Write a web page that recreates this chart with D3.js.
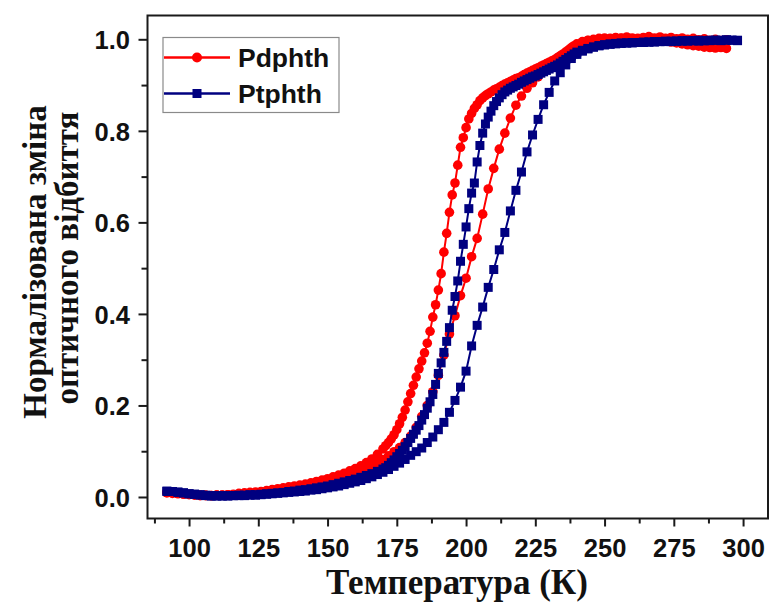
<!DOCTYPE html>
<html>
<head>
<meta charset="utf-8">
<script src="https://cdn.jsdelivr.net/npm/d3@7/dist/d3.min.js"></script>
<style>
  html, body { margin: 0; padding: 0; background: #ffffff; }
  svg { display: block; }
</style>
</head>
<body>
<svg id="chart" width="770" height="608"></svg>
<script>
// ---------------- DATA ----------------
const seriesNames = ["Pdphth", "Ptphth"];
const xTickValues = [100, 125, 150, 175, 200, 225, 250, 275, 300];
const xMinorTickValues = [87.5, 112.5, 137.5, 162.5, 187.5, 212.5, 237.5, 262.5, 287.5];
const yTickValues = [0.0, 0.2, 0.4, 0.6, 0.8, 1.0];
const yMinorTickValues = [0.1, 0.3, 0.5, 0.7, 0.9];
const xTitle = "Температура (К)";
const yTitleLines = ["Нормалізована зміна", "оптичного відбиття"];

// heating scan temperatures (K)
const heatT = [92,94,96,98,100,102,104,106,108,110,112,114,116,118,120,122,124,126,128,130,
  132,134,136,138,140,142,144,146,148,150,152,154,156,158,160,162,164,166,168,170,
  172,174,176,178,180,182,184,186,188,190,192,194,196,198,200,202,204,206,208,210,
  212,214,216,218,220,222,224,226,228,230,232,234,236,238,240,242,244,246,248,250,
  252,254,256,258,260,262,264,266,268,270,272,274,276,278,280,282,284,286,288,290,
  292,294,296,298];

// cooling scan temperatures (K)
const coolT = [92,94,96,98,100,102,104,106,108,110,112,114,116,118,120,122,124,126,128,130,
  132,134,136,138,140,142,144,146,148,150,152,154,156,158,160,162,164,166,168,170,
  171,172,173,174,175,176,177,178,179,180,181,182,183,184,185,186,187,188,189,190,
  191,192,193,194,195,196,197,198,199,200,201,202,203,204,205,206,207,208,209,210,
  211,212,213,214,215,216,217,218,219,220,221,222,223,224,225,226,227,228,229,230,
  231,232,233,234,235,236,237,238,239,240,
  242,244,246,248,250,252,254,256,258,260,262,264,266,268,270,272,274,276,278,280,
  282,284,286,288,290,292,294,296,298];

// Pdphth heating branch
const pdHeat = [0.009,0.008,0.007,0.006,0.005,0.004,0.003,0.003,0.003,0.004,0.004,0.005,0.005,0.006,0.007,0.008,0.009,0.010,0.011,0.013,
  0.015,0.017,0.019,0.021,0.023,0.025,0.027,0.030,0.033,0.036,0.040,0.044,0.048,0.050,0.052,0.056,0.061,0.067,0.074,0.082,
  0.090,0.099,0.108,0.119,0.133,0.152,0.176,0.200,0.230,0.266,0.310,0.356,0.396,0.440,0.478,0.525,0.565,0.618,0.673,0.718,
  0.760,0.795,0.828,0.856,0.876,0.893,0.905,0.918,0.930,0.942,0.953,0.963,0.972,0.980,0.987,0.993,0.997,0.999,1.000,1.000,
  1.002,1.000,1.003,1.001,0.999,1.002,1.000,0.998,1.001,0.999,0.996,0.994,0.992,0.990,0.988,0.986,0.985,0.983,0.982,0.981,
  0.982,0.980,null,null];

// Pdphth cooling branch
const pdCool = [0.011,0.010,0.009,0.007,0.006,0.005,0.004,0.004,0.003,0.004,0.004,0.005,0.006,0.008,0.009,0.010,0.011,0.012,0.014,0.016,
  0.018,0.020,0.022,0.024,0.026,0.028,0.031,0.034,0.037,0.040,0.044,0.048,0.052,0.057,0.062,0.068,0.075,0.083,0.093,0.105,
  0.112,0.119,0.127,0.136,0.147,0.160,0.174,0.190,0.208,0.226,0.244,0.262,0.280,0.297,0.315,0.336,0.362,0.393,0.420,0.452,
  0.488,0.535,0.576,0.622,0.660,0.686,0.725,0.764,0.785,0.807,0.826,0.838,0.849,0.857,0.866,0.872,0.877,0.881,0.885,0.889,
  0.892,0.895,0.899,0.902,0.905,0.908,0.911,0.914,0.916,0.919,0.923,0.926,0.929,0.932,0.935,0.938,0.941,0.944,0.947,0.950,
  0.953,0.956,0.960,0.964,0.968,0.972,0.977,0.982,0.986,0.990,
  0.995,0.998,1.000,1.002,1.003,1.001,1.004,1.002,1.005,1.003,1.001,1.004,1.006,1.003,1.005,1.002,1.004,1.001,1.003,1.000,
  1.002,0.999,1.001,0.998,1.000,0.997,0.999,null,null];

// Ptphth heating branch
const ptHeat = [0.013,0.012,0.011,0.009,0.007,0.006,0.004,0.003,0.002,0.002,0.002,0.002,0.003,0.003,0.003,0.004,0.004,0.005,0.006,0.007,
  0.008,0.009,0.010,0.011,0.012,0.013,0.015,0.016,0.018,0.020,0.022,0.024,0.027,0.030,0.033,0.036,0.040,0.044,0.049,0.054,
  0.060,0.067,0.074,0.082,0.091,0.099,0.107,0.119,0.131,0.147,0.163,0.185,0.211,0.240,0.275,0.330,0.375,0.415,0.458,0.497,
  0.540,0.578,0.625,0.670,0.710,0.754,0.791,0.825,0.857,0.884,0.909,0.927,0.944,0.958,0.967,0.974,0.979,0.983,0.986,0.988,
  0.990,0.991,0.992,0.992,0.993,0.993,0.994,0.994,0.995,0.995,0.996,0.996,0.996,0.997,0.997,0.997,0.998,0.997,0.998,0.998,
  0.998,0.999,0.998,0.998];

// Ptphth cooling branch
const ptCool = [0.012,0.012,0.010,0.009,0.007,0.006,0.005,0.004,0.003,0.003,0.003,0.003,0.003,0.004,0.004,0.005,0.005,0.006,0.007,0.008,
  0.009,0.010,0.012,0.013,0.015,0.016,0.018,0.020,0.022,0.024,0.027,0.030,0.033,0.036,0.039,0.043,0.047,0.051,0.056,0.061,
  0.064,0.069,0.075,0.081,0.088,0.095,0.102,0.110,0.119,0.128,0.137,0.146,0.156,0.168,0.180,0.194,0.208,0.224,0.246,0.270,
  0.293,0.316,0.340,0.370,0.408,0.438,0.472,0.515,0.552,0.590,0.630,0.664,0.686,0.732,0.768,0.795,0.815,0.830,0.843,0.855,
  0.864,0.872,0.879,0.885,0.889,0.893,0.896,0.899,0.902,0.906,0.909,0.912,0.915,0.918,0.920,0.923,0.926,0.929,0.932,0.935,
  0.938,0.941,0.944,0.948,0.952,0.956,0.960,0.964,0.968,0.972,
  0.976,0.980,0.983,0.986,0.988,0.989,0.990,0.991,0.992,0.992,0.993,0.993,0.994,0.994,0.995,0.995,0.995,0.996,0.996,0.996,
  0.997,0.996,0.997,0.997,0.998,0.997,0.998,0.998,0.997];

const seriesColors = ["#ff0000", "#000080"];

// ---------------- CHART ----------------
const plot = { left: 147.5, right: 768, top: 15.5, bottom: 518.5 };
const svg = d3.select("#chart");

const x = d3.scaleLinear().domain([85, 309]).range([plot.left, plot.right]);
const y = d3.scaleLinear().domain([-0.047, 1.052]).range([plot.bottom, plot.top]);

svg.append("defs").append("clipPath").attr("id", "clip")
  .append("rect").attr("x", plot.left).attr("y", plot.top)
  .attr("width", plot.right - plot.left).attr("height", plot.bottom - plot.top);

function zip(ts, vs) {
  return ts.map((t, i) => ({ t: t, v: vs[i] })).filter(d => d.v !== null && d.v !== undefined);
}

const branches = [
  { name: seriesNames[0], color: seriesColors[0], shape: "circle", data: zip(coolT, pdCool) },
  { name: seriesNames[0], color: seriesColors[0], shape: "circle", data: zip(heatT, pdHeat) },
  { name: seriesNames[1], color: seriesColors[1], shape: "square", data: zip(coolT, ptCool) },
  { name: seriesNames[1], color: seriesColors[1], shape: "square", data: zip(heatT, ptHeat) }
];

const line = d3.line().x(d => x(d.t)).y(d => y(d.v));
const gData = svg.append("g").attr("clip-path", "url(#clip)");

const R = 4.8, S = 9;
branches.forEach(b => {
  const g = gData.append("g");
  g.append("path").datum(b.data).attr("d", line)
    .attr("fill", "none").attr("stroke", b.color).attr("stroke-width", 2);
  if (b.shape === "circle") {
    g.selectAll("circle").data(b.data).join("circle")
      .attr("cx", d => x(d.t)).attr("cy", d => y(d.v)).attr("r", R).attr("fill", b.color);
  } else {
    g.selectAll("rect").data(b.data).join("rect")
      .attr("x", d => x(d.t) - S / 2).attr("y", d => y(d.v) - S / 2)
      .attr("width", S).attr("height", S).attr("fill", b.color);
  }
});

// Axes
const axisColor = "#1a1a1a";
const tickFont = "'Liberation Sans', Arial, sans-serif";

const xAxis = svg.append("g").attr("transform", `translate(0,${plot.bottom})`)
  .call(d3.axisBottom(x).tickValues(xTickValues).tickSize(8).tickFormat(d3.format("d")));
const xMinor = svg.append("g").attr("transform", `translate(0,${plot.bottom})`)
  .call(d3.axisBottom(x).tickValues(xMinorTickValues).tickSize(5).tickFormat(""));
const yAxis = svg.append("g").attr("transform", `translate(${plot.left},0)`)
  .call(d3.axisLeft(y).tickValues(yTickValues).tickSize(9).tickPadding(8.5).tickFormat(d3.format(".1f")));
const yMinor = svg.append("g").attr("transform", `translate(${plot.left},0)`)
  .call(d3.axisLeft(y).tickValues(yMinorTickValues).tickSize(6).tickFormat(""));

[xAxis, xMinor, yAxis, yMinor].forEach(a => {
  a.select(".domain").remove();
  a.selectAll(".tick line").attr("stroke", axisColor).attr("stroke-width", 2);
  a.selectAll(".tick text").attr("fill", "#111").style("font-family", tickFont)
    .style("font-weight", "bold").style("font-size", "25.5px");
});
xAxis.selectAll(".tick text").attr("y", 38.5).attr("dy", "0");
yAxis.selectAll(".tick text").attr("dy", "0.36em");

// frame
svg.append("rect")
  .attr("x", plot.left).attr("y", plot.top)
  .attr("width", plot.right - plot.left).attr("height", plot.bottom - plot.top)
  .attr("fill", "none").attr("stroke", axisColor).attr("stroke-width", 2);

// Axis titles
const titleFont = "'Liberation Serif', 'Times New Roman', serif";
svg.append("text").attr("x", 457).attr("y", 594).attr("text-anchor", "middle")
  .style("font-family", titleFont).style("font-weight", "bold").style("font-size", "35px")
  .attr("fill", "#111").text(xTitle);

const yTitleX = [46, 78];
const yTitleY = [262, 258];
yTitleLines.forEach((t, i) => {
  svg.append("text")
    .attr("transform", `translate(${yTitleX[i]},${yTitleY[i]}) rotate(-90)`)
    .attr("text-anchor", "middle")
    .style("font-family", titleFont).style("font-weight", "bold").style("font-size", "33px")
    .attr("fill", "#111").text(t);
});

// Legend
const lg = svg.append("g");
lg.append("rect").attr("x", 163).attr("y", 37.5).attr("width", 176).attr("height", 75)
  .attr("fill", "#fff").attr("stroke", "#8a8a8a").attr("stroke-width", 1.2);
const legendItems = [
  { name: seriesNames[0], color: seriesColors[0], shape: "circle", y: 57.5 },
  { name: seriesNames[1], color: seriesColors[1], shape: "square", y: 93.5 }
];
legendItems.forEach(it => {
  lg.append("line").attr("x1", 164).attr("x2", 230).attr("y1", it.y).attr("y2", it.y)
    .attr("stroke", it.color).attr("stroke-width", 2.5);
  if (it.shape === "circle") {
    lg.append("circle").attr("cx", 197).attr("cy", it.y).attr("r", 5).attr("fill", it.color);
  } else {
    lg.append("rect").attr("x", 197 - 4.5).attr("y", it.y - 4.5).attr("width", 9).attr("height", 9).attr("fill", it.color);
  }
  lg.append("text").attr("x", 238).attr("y", it.y + 9.3)
    .style("font-family", tickFont).style("font-weight", "bold").style("font-size", "26.5px")
    .attr("fill", "#111").text(it.name);
});
</script>
</body>
</html>
